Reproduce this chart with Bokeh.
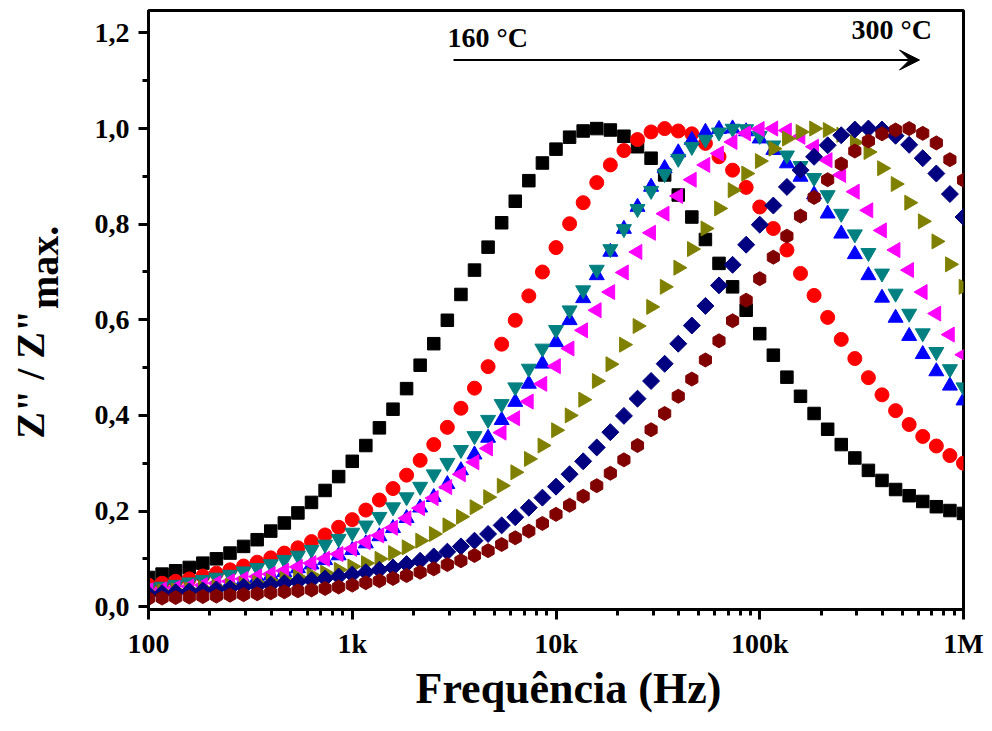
import math
from bokeh.plotting import figure
from bokeh.layouts import row
from bokeh.models import (FixedTicker, CustomJSTickFormatter, Range1d, Label,
                          Arrow, VeeHead, Title)
from bokeh.core.properties import value
from bokeh.embed import file_html
from bokeh.resources import INLINE

# ---------------- data ----------------
freq = [100, 116.6, 135.9, 158.5, 184.8, 215.4, 251.2, 292.9, 341.5, 398.1,
        464.2, 541.2, 631.0, 735.6, 857.7, 1000, 1166, 1359, 1585, 1848,
        2154, 2512, 2929, 3415, 3981, 4642, 5412, 6310, 7356, 8577,
        10000, 11659, 13594, 15849, 18478, 21544, 25119, 29286, 34145, 39811,
        46416, 54117, 63096, 73564, 85770, 100000, 116590, 135940, 158490, 184780,
        215440, 251190, 292860, 341450, 398110, 464160, 541170, 630960, 735640, 857700,
        1000000]

z_160 = [0.061, 0.068, 0.075, 0.082, 0.091, 0.100, 0.112, 0.126, 0.140, 0.158,
         0.175, 0.196, 0.218, 0.243, 0.272, 0.304, 0.337, 0.374, 0.413, 0.456,
         0.505, 0.550, 0.599, 0.653, 0.704, 0.752, 0.803, 0.848, 0.891, 0.928,
         0.957, 0.982, 0.995, 1.000, 0.997, 0.984, 0.962, 0.938, 0.903, 0.861,
         0.815, 0.768, 0.718, 0.669, 0.620, 0.571, 0.526, 0.480, 0.440, 0.404,
         0.371, 0.339, 0.311, 0.285, 0.264, 0.245, 0.232, 0.220, 0.209, 0.201,
         0.195]

z_180 = [0.045, 0.049, 0.053, 0.058, 0.064, 0.070, 0.077, 0.085, 0.093, 0.102,
         0.112, 0.123, 0.136, 0.150, 0.166, 0.182, 0.202, 0.223, 0.247, 0.275,
         0.306, 0.339, 0.375, 0.415, 0.457, 0.502, 0.549, 0.599, 0.650, 0.700,
         0.751, 0.801, 0.845, 0.887, 0.924, 0.954, 0.977, 0.993, 1.000, 0.995,
         0.989, 0.969, 0.941, 0.913, 0.877, 0.836, 0.791, 0.746, 0.697, 0.651,
         0.605, 0.559, 0.519, 0.479, 0.443, 0.410, 0.381, 0.356, 0.336, 0.316,
         0.300]

z_200 = [0.031, 0.033, 0.036, 0.039, 0.042, 0.046, 0.050, 0.055, 0.060, 0.065,
         0.072, 0.080, 0.088, 0.097, 0.107, 0.118, 0.132, 0.147, 0.164, 0.185,
         0.207, 0.229, 0.256, 0.285, 0.318, 0.353, 0.390, 0.428, 0.466, 0.508,
         0.553, 0.599, 0.645, 0.693, 0.742, 0.790, 0.836, 0.878, 0.917, 0.950,
         0.976, 0.993, 0.999, 1.000, 0.994, 0.979, 0.955, 0.927, 0.899, 0.862,
         0.822, 0.780, 0.737, 0.693, 0.646, 0.604, 0.566, 0.528, 0.492, 0.462,
         0.431]

z_220 = [0.039, 0.042, 0.046, 0.051, 0.056, 0.061, 0.067, 0.074, 0.081, 0.089,
         0.098, 0.107, 0.119, 0.130, 0.142, 0.155, 0.170, 0.188, 0.208, 0.229,
         0.251, 0.277, 0.301, 0.328, 0.357, 0.391, 0.424, 0.459, 0.498, 0.540,
         0.579, 0.620, 0.662, 0.705, 0.748, 0.790, 0.832, 0.870, 0.905, 0.937,
         0.962, 0.977, 0.992, 1.000, 0.999, 0.985, 0.965, 0.944, 0.922, 0.897,
         0.861, 0.822, 0.779, 0.740, 0.697, 0.655, 0.613, 0.572, 0.533, 0.497,
         0.459]

z_240 = [0.034, 0.036, 0.039, 0.042, 0.045, 0.049, 0.053, 0.058, 0.063, 0.068,
         0.075, 0.083, 0.091, 0.100, 0.110, 0.121, 0.135, 0.149, 0.165, 0.185,
         0.206, 0.227, 0.250, 0.277, 0.302, 0.331, 0.364, 0.394, 0.429, 0.466,
         0.503, 0.540, 0.578, 0.620, 0.658, 0.699, 0.742, 0.782, 0.822, 0.859,
         0.893, 0.924, 0.948, 0.972, 0.990, 0.999, 1.000, 0.996, 0.983, 0.962,
         0.934, 0.903, 0.868, 0.829, 0.787, 0.746, 0.704, 0.658, 0.613, 0.569,
         0.527]

z_260 = [0.030, 0.032, 0.034, 0.036, 0.039, 0.041, 0.044, 0.047, 0.050, 0.054,
         0.058, 0.062, 0.066, 0.071, 0.077, 0.084, 0.091, 0.100, 0.112, 0.124,
         0.138, 0.152, 0.170, 0.188, 0.208, 0.229, 0.253, 0.281, 0.309, 0.337,
         0.369, 0.400, 0.433, 0.472, 0.507, 0.548, 0.587, 0.627, 0.669, 0.709,
         0.748, 0.791, 0.833, 0.871, 0.906, 0.932, 0.958, 0.979, 0.993, 1.000,
         0.997, 0.987, 0.971, 0.951, 0.917, 0.884, 0.845, 0.806, 0.764, 0.716,
         0.669]

z_280 = [0.026, 0.028, 0.030, 0.032, 0.034, 0.036, 0.038, 0.041, 0.043, 0.046,
         0.049, 0.052, 0.055, 0.059, 0.063, 0.067, 0.072, 0.077, 0.082, 0.089,
         0.096, 0.105, 0.115, 0.126, 0.138, 0.152, 0.170, 0.187, 0.207, 0.228,
         0.251, 0.277, 0.304, 0.333, 0.365, 0.399, 0.435, 0.472, 0.508, 0.550,
         0.588, 0.629, 0.672, 0.715, 0.757, 0.799, 0.839, 0.878, 0.913, 0.941,
         0.965, 0.986, 0.998, 1.000, 0.998, 0.985, 0.966, 0.938, 0.906, 0.863,
         0.815]

z_300 = [0.017, 0.018, 0.019, 0.020, 0.021, 0.022, 0.024, 0.025, 0.027, 0.029,
         0.031, 0.033, 0.035, 0.038, 0.041, 0.045, 0.050, 0.054, 0.059, 0.065,
         0.072, 0.079, 0.088, 0.096, 0.107, 0.117, 0.130, 0.144, 0.158, 0.174,
         0.193, 0.212, 0.231, 0.253, 0.279, 0.307, 0.337, 0.370, 0.404, 0.440,
         0.476, 0.516, 0.556, 0.598, 0.641, 0.686, 0.731, 0.775, 0.817, 0.856,
         0.893, 0.926, 0.953, 0.974, 0.989, 0.997, 1.000, 0.990, 0.970, 0.935,
         0.892]

x_ticks = [100, 1000, 10000, 100000, 1000000]
x_tick_labels = ["100", "1k", "10k", "100k", "1M"]
y_ticks = [0.0, 0.2, 0.4, 0.6, 0.8, 1.0, 1.2]
y_tick_labels = ["0,0", "0,2", "0,4", "0,6", "0,8", "1,0", "1,2"]

x_title = "Frequência (Hz)"
y_title_main = 'Z" / Z"'
y_title_sub = "max."
t_start = "160 °C"
t_end = "300 °C"

# ---------------- layout constants ----------------
FONT = "Liberation Serif"
TOTAL_W, TOTAL_H = 992, 731
LEFT_W = 70
TOP_B, BOTTOM_B = 10, 122

# ---------------- main figure ----------------
p = figure(width=TOTAL_W - LEFT_W, height=TOTAL_H, x_axis_type="log",
           x_range=Range1d(100, 1e6), y_range=Range1d(-0.006, 1.247),
           output_backend="svg", toolbar_location=None,
           min_border_left=148 - LEFT_W, min_border_right=29,
           min_border_top=TOP_B, min_border_bottom=BOTTOM_B)
p.background_fill_color = "white"
p.border_fill_color = "white"
p.grid.visible = False
p.outline_line_color = "black"
p.outline_line_width = 3
p.outline_line_alpha = 1.0

minor_x = [m * 10 ** d for d in range(2, 6) for m in range(2, 10)]
p.xaxis.ticker = FixedTicker(ticks=x_ticks, minor_ticks=minor_x)
p.xaxis.formatter = CustomJSTickFormatter(
    args=dict(t=x_ticks, l=x_tick_labels),
    code="""
    for (let i = 0; i < t.length; i++) {
        if (Math.abs(Math.log10(tick) - Math.log10(t[i])) < 1e-6) return l[i];
    }
    return "";
    """)
minor_y = [0.1, 0.3, 0.5, 0.7, 0.9, 1.1]
p.yaxis.ticker = FixedTicker(ticks=y_ticks, minor_ticks=minor_y)
p.yaxis.formatter = CustomJSTickFormatter(
    args=dict(t=y_ticks, l=y_tick_labels),
    code="""
    for (let i = 0; i < t.length; i++) {
        if (Math.abs(tick - t[i]) < 1e-6) return l[i];
    }
    return "";
    """)

for ax in (p.xaxis[0], p.yaxis[0]):
    ax.axis_line_width = 3
    ax.axis_line_color = "black"
    ax.major_tick_line_width = 3
    ax.minor_tick_line_width = 3
    ax.major_tick_out = 10
    ax.major_tick_in = 0
    ax.minor_tick_out = 6
    ax.minor_tick_in = 0
    ax.major_label_text_font = FONT
    ax.major_label_text_font_style = "bold"
    ax.major_label_text_font_size = "28px"
    ax.major_label_text_color = "black"
    ax.axis_label = None
p.xaxis.major_label_standoff = 8
p.yaxis.major_label_standoff = 9

# x-axis title as a Title placed below the axis
p.add_layout(Title(text=x_title, align="left", offset=267,
                   text_font=FONT, text_font_style="bold",
                   text_font_size="44px", text_color="black",
                   standoff=0), "below")

# ---------------- series ----------------
series = [
    (z_160, "square", 12.5, "#000000", 0.0),
    (z_180, "circle", 14, "#FF0000", 0.0),
    (z_200, "triangle", 15, "#0000FF", 0.0),
    (z_220, "inverted_triangle", 15, "#008080", 0.0),
    (z_240, "triangle", 15, "#FF00FF", math.pi / 2),
    (z_260, "triangle", 15, "#808000", -math.pi / 2),
    (z_280, "square", 12, "#000080", math.pi / 4),
    (z_300, "hex", 14, "#800000", math.pi / 6),
]
for ys, mk, sz, col, ang in series:
    p.scatter(freq, ys, marker=mk, size=sz, fill_color=col, line_color=col,
              angle=ang)

# ---------------- annotations in the plot ----------------
p.add_layout(Label(x=299, y=572, x_units="screen", y_units="screen",
                   text=t_start, text_align="left",
                   text_baseline="alphabetic", text_font=FONT,
                   text_font_style="bold", text_font_size="28px",
                   text_color="black"))
p.add_layout(Label(x=703, y=580, x_units="screen", y_units="screen",
                   text=t_end, text_align="left",
                   text_baseline="alphabetic", text_font=FONT,
                   text_font_style="bold", text_font_size="28px",
                   text_color="black"))
p.add_layout(Arrow(x_start=305, y_start=549.5, x_end=771, y_end=549.5,
                   start_units="screen", end_units="screen",
                   line_width=2, line_color="black",
                   end=VeeHead(size=20, fill_color="black", line_color="black")))

# ---------------- y-axis title panel (with subscript) ----------------
# the row aligns this panel's frame with the main frame (page y 10..609),
# so its y range is set so that one unit is one page pixel, counted from
# the bottom of the page.
lp = figure(width=LEFT_W, height=TOTAL_H, x_range=Range1d(0, LEFT_W),
            y_range=Range1d(BOTTOM_B - 0.5, TOTAL_H - TOP_B),
            output_backend="svg",
            toolbar_location=None, x_axis_location=None,
            y_axis_location=None, min_border=0, title=None,
            min_border_top=TOP_B, min_border_bottom=BOTTOM_B)
lp.outline_line_color = None
lp.grid.visible = False
lp.background_fill_color = "white"
lp.border_fill_color = "white"
lp.text(x=[30], y=[TOTAL_H - 374], text=[y_title_main], angle=math.pi / 2,
        text_align="center", text_baseline="middle",
        text_font=value(FONT), text_font_style="bold",
        text_font_size="40px", text_color="black")
lp.text(x=[44], y=[TOTAL_H - 267], text=[y_title_sub], angle=math.pi / 2,
        text_align="center", text_baseline="middle",
        text_font=value(FONT), text_font_style="bold",
        text_font_size="40px", text_color="black")

layout = row(lp, p, spacing=0)
open("out.html", "w").write(file_html(layout, INLINE))
